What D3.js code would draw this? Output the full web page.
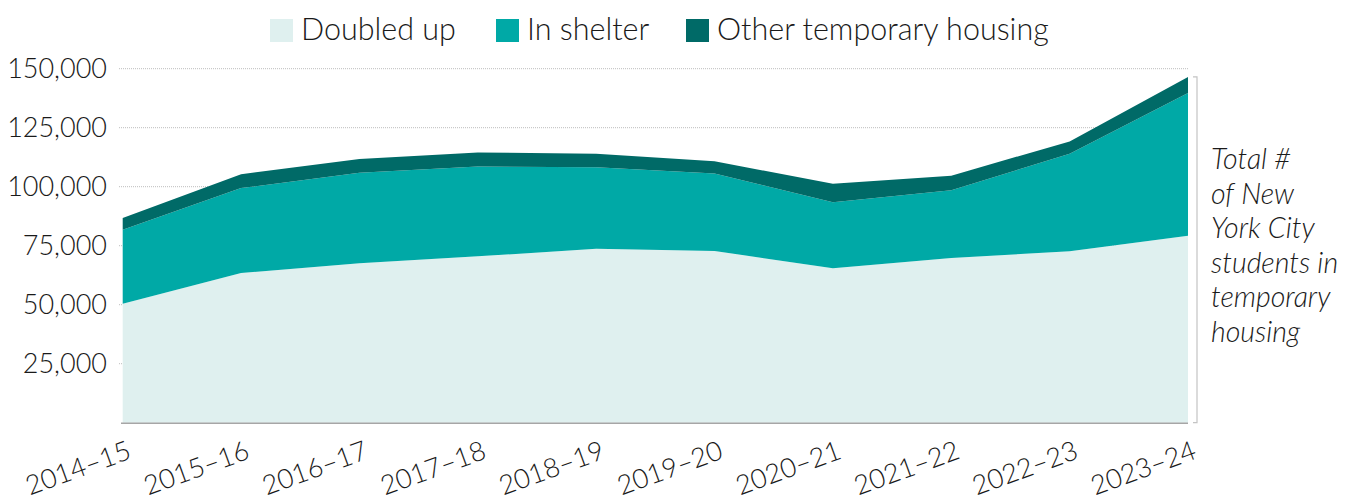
<!DOCTYPE html>
<html>
<head>
	<title></title>
	<style>
		body { margin: 0; background: #fff; }
		text { font-family: Lato, "Open Sans", sans-serif; font-weight: 300; fill: #1a1a1a; }
	</style>
</head>
<body>

<svg id="chart" width="1359" height="504"></svg>

<script src="https://d3js.org/d3.v7.min.js"></script>
<script>
	// -------------------------------------------------------------
	// Students in temporary housing, NYC, stacked area

	const years = ['2014–15', '2015–16', '2016–17', '2017–18', '2018–19',
		'2019–20', '2020–21', '2021–22', '2022–23', '2023–24']
	const doubledUp = [50400, 63400, 67600, 70500, 73700, 72800, 65400, 69800, 72600, 79200]
	const inShelter = [31400, 36000, 38300, 38100, 34500, 32800, 28000, 28650, 41400, 60500]
	const otherTemp = [4900, 5900, 5800, 5900, 5800, 5200, 7800, 6200, 5200, 6800]
	const seriesNames = ['Doubled up', 'In shelter', 'Other temporary housing']
	const yTicks = [25000, 50000, 75000, 100000, 125000, 150000]
	const noteLines = ['Total #', 'of New', 'York City', 'students in', 'temporary', 'housing']

	const colors = ['#dff0ef', '#00a9a6', '#006a67']

	// build rows for d3.stack
	const rows = years.map((y, i) => ({
		year: y,
		'Doubled up': doubledUp[i],
		'In shelter': inShelter[i],
		'Other temporary housing': otherTemp[i]
	}))

	const svg = d3.select('#chart')

	// scales
	const xScale = d3.scalePoint()
		.domain(years)
		.range([122.7, 1188])

	const yScale = d3.scaleLinear()
		.domain([0, 150000])
		.range([422.7, 68.7])

	// dotted grid lines
	svg.append('g')
		.selectAll('line')
		.data(yTicks)
		.enter()
		.append('line')
		.attr('x1', 119)
		.attr('x2', 1188)
		.attr('y1', d => yScale(d))
		.attr('y2', d => yScale(d))
		.attr('stroke', '#bdbdbd')
		.attr('stroke-width', 1)
		.attr('stroke-dasharray', '1,1')

	// y tick labels
	svg.append('g')
		.selectAll('text')
		.data(yTicks)
		.enter()
		.append('text')
		.attr('x', 107)
		.attr('y', d => yScale(d))
		.attr('dy', '0.35em')
		.attr('text-anchor', 'end')
		.style('font-size', '27px')
		.text(d => d3.format(',')(d))

	// stacked areas
	const stack = d3.stack().keys(seriesNames)
	const layers = stack(rows)

	const area = d3.area()
		.x(d => xScale(d.data.year))
		.y0(d => yScale(d[0]))
		.y1(d => yScale(d[1]))

	svg.append('g')
		.selectAll('path')
		.data(layers)
		.enter()
		.append('path')
		.attr('d', area)
		.attr('fill', (d, i) => colors[i])

	// base line
	svg.append('line')
		.attr('x1', 121)
		.attr('x2', 1188)
		.attr('y1', yScale(0) + 0.5)
		.attr('y2', yScale(0) + 0.5)
		.attr('stroke', '#a6a6a6')
		.attr('stroke-width', 1.5)

	// x labels, tilted
	svg.append('g')
		.selectAll('text')
		.data(years)
		.enter()
		.append('text')
		.attr('text-anchor', 'end')
		.attr('transform', d => `translate(${xScale(d) + 10}, 458) rotate(-20)`)
		.style('font-size', '27px')
		.text(d => d)

	// bracket for the total note
	const topY = yScale(d3.sum([doubledUp, inShelter, otherTemp], s => s[s.length - 1]))
	svg.append('path')
		.attr('d', `M1193,${topY}H1197V${yScale(0)}H1193`)
		.attr('fill', 'none')
		.attr('stroke', '#c4c4c4')
		.attr('stroke-width', 1.2)

	// note text on the right
	svg.append('g')
		.selectAll('text')
		.data(noteLines)
		.enter()
		.append('text')
		.attr('x', 1211)
		.attr('y', (d, i) => 169 + i * 34.5)
		.style('font-size', '28.5px')
		.style('font-style', 'italic')
		.text(d => d)

	// legend
	const legendX = [270, 496, 686]
	const legend = svg.append('g')
		.selectAll('g')
		.data(seriesNames)
		.enter()
		.append('g')
		.attr('transform', (d, i) => `translate(${legendX[i]}, 19)`)

	legend.append('rect')
		.attr('width', 23)
		.attr('height', 23)
		.attr('fill', (d, i) => colors[i])

	legend.append('text')
		.attr('x', 31)
		.attr('y', 21)
		.style('font-size', '30.5px')
		.text(d => d)

</script>
</body>
</html>
